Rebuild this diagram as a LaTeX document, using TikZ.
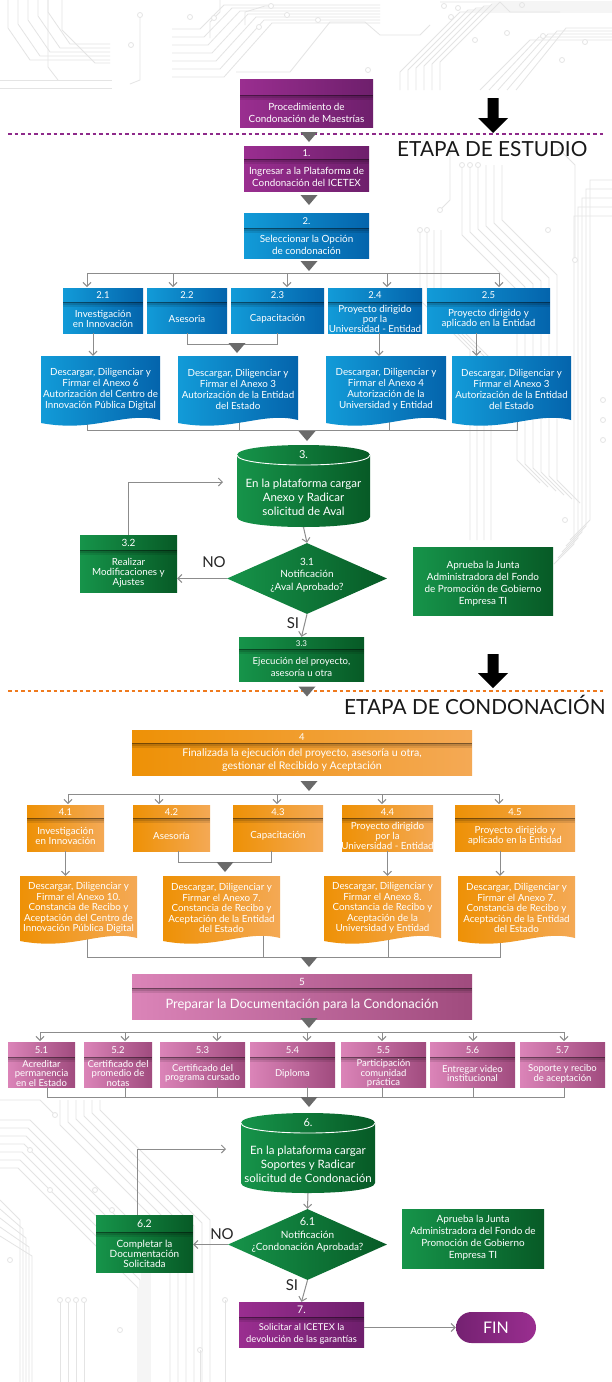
\documentclass[tikz,border=0pt]{standalone}
\usepackage{fontspec}
\setmainfont{Lato}
\usetikzlibrary{shapes.geometric,arrows.meta,calc}
\definecolor{purL}{HTML}{9A2E90}
\definecolor{purR}{HTML}{6E1F6C}
\definecolor{bluL}{HTML}{129BD8}
\definecolor{bluR}{HTML}{0464AC}
\definecolor{grnL}{HTML}{16944A}
\definecolor{grnR}{HTML}{075A26}
\definecolor{orgL}{HTML}{EE9106}
\definecolor{orgR}{HTML}{F4A955}
\definecolor{pnkL}{HTML}{DB84B8}
\definecolor{pnkR}{HTML}{A04B7E}
\definecolor{lineg}{HTML}{8C8C8C}
\definecolor{trig}{HTML}{6A6A6A}
\definecolor{dotpur}{HTML}{8E2A8A}
\definecolor{dotorg}{HTML}{EF7A1E}
\definecolor{circg}{HTML}{E4E4E4}
\pgfdeclarelayer{bg}
\pgfdeclarelayer{deco}
\pgfsetlayers{deco,bg,main}
\tikzset{
  base/.style={rectangle,inner sep=0pt,draw=none},
  pur/.style={left color=purL,right color=purR},
  blu/.style={left color=bluL,right color=bluR},
  grn/.style={left color=grnL,right color=grnR},
  org/.style={left color=orgL,right color=orgR},
  pnk/.style={left color=pnkL,right color=pnkR},
  numtxt/.style={text=white,font=\fontsize{9.5}{10}\selectfont,inner sep=0pt},
  boxtxt/.style={text=white,font=\fontsize{9.9}{12}\selectfont,align=center,inner sep=0pt},
  bt/.style={},
  nt/.style={},
  conn/.style={draw=lineg,line width=1pt},
  arr/.style={conn,-{Straight Barb[length=4pt,width=8pt]}},
  lbl/.style={font=\fontsize{15}{16}\selectfont,text=black!85,inner sep=0pt},
  etapa/.style={font=\fontsize{20.8}{22}\selectfont,text=black!90,inner sep=0pt,anchor=west},
  tri/.pic={\fill[trig] (-8.5,-5) -- (8.5,-5) -- (0,5) -- cycle;},
  circ/.style={draw=circg,line width=.8pt},
  pad/.style={draw=circg,line width=.8pt,fill=white},
}
\newcommand\pbox[9][14]{%
  \node[base,#7,minimum width={#5-#3},minimum height={#6-#4}] (#2) at ({(#3+#5)/2},{(#4+#6)/2}) {};
  \fill[black,opacity=.5] (#3,{#4+#1}) rectangle (#5,{#4+#1+1.3});
  \fill[black,opacity=.22] (#3,{#4+#1+1.3}) rectangle (#5,{#4+#1+3});
  \fill[black,opacity=.1] (#3,{#4+#1+3}) rectangle (#5,{#4+#1+5});
  \node[numtxt,nt] (#2-n) at ({(#3+#5)/2},{#4+#1/2+0.5}) {#8};
  \node[boxtxt,bt] (#2-t) at ({(#3+#5)/2},{(#4+#1+#6)/2+1.5}) {#9};
}
\newcommand\dbox[7]{%
  \shade[#6] (#2,#3) -- (#4,#3) -- (#4,{#5-5}) .. controls ({#4-0.3*(#4-#2)},{#5-14}) and ({#2+0.45*(#4-#2)},{#5+8}) .. (#2,{#5-2}) -- cycle;
  \node[base,minimum width={#4-#2},minimum height={#5-#3}] (#1) at ({(#2+#4)/2},{(#3+#5)/2}) {};
  \node[boxtxt,bt] (#1-t) at ({(#2+#4)/2},{(#3+#5)/2-1.5}) {#7};
}
\newcommand\cyl[7]{%
  \shade[grn] (#2,{#3+10}) .. controls (#2,{#3-3.33}) and (#4,{#3-3.33}) .. (#4,{#3+10}) -- (#4,{#5-10}) .. controls (#4,{#5+3.33}) and (#2,{#5+3.33}) .. (#2,{#5-10}) -- cycle;
  \draw[white,line width=.9pt] (#2,{#3+10}) .. controls (#2,{#3+23.33}) and (#4,{#3+23.33}) .. (#4,{#3+10});
  \node[base,minimum width={#4-#2},minimum height={#5-#3}] (#1) at ({(#2+#4)/2},{(#3+#5)/2}) {};
  \node[numtxt,font=\fontsize{11}{12}\selectfont] (#1-n) at ({(#2+#4)/2},{#3+10}) {#6};
  \node[boxtxt,font=\fontsize{11.5}{14}\selectfont] (#1-t) at ({(#2+#4)/2},{(#3+#5)/2+11}) {#7};
}
\newcommand\bigarrow[3]{%
  \fill[black] ({#1-5.5},#2) -- ({#1+5.5},#2) -- ({#1+5.5},{#3-15}) -- ({#1+15},{#3-15}) -- (#1,#3) -- ({#1-15},{#3-15}) -- ({#1-5.5},{#3-15}) -- cycle;
}
\begin{document}
\begin{tikzpicture}[x=1pt,y=-1pt]
\useasboundingbox (0,0) rectangle (612,1382);

% ===== faint circuit background =====
\begin{pgfonlayer}{deco}
\fill[white] (0,0) rectangle (612,1382);
% top left
\foreach \i in {0,...,4} \draw[circ] ({8+10*\i},0) -- ({8+10*\i},{28-4*\i}) -- ({30+10*\i},{60-4*\i}) -- (110,{60-4*\i});
\draw[circ] (0,80) -- (112,80);
\draw[circ] (0,88) -- (112,88);
\draw[circ] (48,0) -- (48,67) -- (58,80);
\draw[circ] (62,0) -- (62,30) -- (95,63) -- (110,63);
\draw[circ] (140,15) -- (140,80) -- (130,84);
\draw[pad] (140,15) circle (2.5);
\draw[pad] (131,45) circle (2.5);
% top centre bus
\foreach \i in {0,...,6} \draw[circ] (172,{29+8*\i}) -- ({200+4*\i},{29+8*\i}) -- ({224+8*\i},{5+3*\i}) -- (380,{5+3*\i});
\draw[circ] (236,72) -- (290,72) -- (330,22) -- (365,22) -- (380,35) -- (420,35) -- (430,25);
\draw[circ] (210,38) -- (210,22) -- (220,12) -- (220,0);
\draw[circ] (245,25) -- (245,12) -- (265,6) -- (270,6);
\foreach \p in {(190,17),(214,18),(271,6),(259,27),(287,15),(318,20),(368,70),(458,8),(451,17),(522,5)} \draw[pad] \p circle (2.5);
% top right bus
\foreach \i in {0,...,5} \draw[circ] ({400+8*\i},90) -- ({400+8*\i},{72-2*\i}) -- ({460+8*\i},{12-2*\i}) -- (612,{12-2*\i});
\foreach \i in {0,...,4} \draw[circ] ({480+9*\i},90) -- ({530+9*\i},{40-\i*3}) -- (612,{40-\i*3});
\draw[circ] (440,2) -- (500,2) -- (510,12) -- (560,12);
\foreach \p in {(444,6),(475,40),(585,42),(543,36),(562,60),(507,33)} \draw[pad] \p circle (2.5);
% right side
\foreach \i in {0,...,5} \draw[circ] ({462+8*\i},165) -- ({462+8*\i},{235-3*\i}) -- ({517+8*\i},{290-3*\i}) -- ({517+8*\i},{460+4*\i}) -- ({540+8*\i},{483+4*\i});
\foreach \i in {0,...,4} \draw[circ] (612,{180+9*\i}) -- ({590-4*\i},{180+9*\i}) -- ({590-4*\i},{520+6*\i}) -- ({570-4*\i},{540+6*\i});
\foreach \i in {0,...,3} \draw[circ] ({420+7*\i},230) -- ({420+7*\i},{300+3*\i}) -- ({470+7*\i},{350+3*\i}) -- ({470+7*\i},{540});
\draw[circ] (450,150) -- (450,200) -- (440,210);
\draw[circ] (560,150) -- (575,165) -- (575,260);
\foreach \p in {(462,165),(470,165),(478,165),(450,150),(440,210),(560,150),(575,260),(548,230),(540,300),(420,230),(427,230),(560,380),(603,400),(603,420),(603,440),(565,520)} \draw[pad] \p circle (2.5);
% bottom left
\foreach \i in {0,...,6} \draw[circ] (0,{1120+8*\i}) -- ({30-2*\i},{1120+8*\i}) -- ({150-2*\i},{1240+8*\i}) -- ({150-2*\i},1382);
\foreach \i in {0,...,5} \draw[circ] ({60+8*\i},1100) -- ({60+8*\i},{1125-3*\i}) -- ({170+8*\i},{1235-3*\i}) -- ({170+8*\i},1382);
\foreach \i in {0,...,4} \draw[circ] (0,{1200+9*\i}) -- ({20+3*\i},{1220+9*\i}) -- ({20+3*\i},1382);
\foreach \i in {0,...,3} \draw[circ] ({60+8*\i},1300) -- ({60+8*\i},1382);
\draw[circ] (0,1100) -- (40,1100) -- (55,1115);
\foreach \p in {(55,1115),(30,1150),(50,1190),(95,1190),(112,1210),(60,1300),(68,1300),(76,1300),(84,1300),(10,1260),(120,1330),(225,1300),(200,1350)} \draw[pad] \p circle (2.5);
\draw[circ] (225,1300) -- (225,1382);
\draw[circ] (200,1350) -- (200,1382);
\end{pgfonlayer}

% ===== ETAPA DE ESTUDIO =====
\draw[dotpur,line width=1.6pt,dash pattern=on 3.5pt off 3pt] (8,134) -- (605,134);
\bigarrow{493}{98}{133}
\node[etapa] (etapa1) at (397,149) {ETAPA DE ESTUDIO};

\pbox[16]{p0}{240}{79}{373}{127}{pur}{}{Procedimiento de\\Condonación de Maestrías}
\pic at (309,137) {tri};
\pbox[13]{b1}{244}{146}{369}{191}{pur}{1.}{Ingresar a la Plataforma de\\Condonación del ICETEX}
\pic at (309,200) {tri};
\pbox[15]{b2}{244}{213}{369}{258}{blu}{2.}{Seleccionar la Opción\\de condonación}
\pic at (309,266) {tri};

\begin{scope}[bt/.style={font=\fontsize{9.8}{10}\selectfont}]
\pbox{b21}{63}{288}{143}{333}{blu}{2.1}{Investigación\\en Innovación}
\pbox{b22}{147}{288}{227}{333}{blu}{2.2}{Asesoria}
\pbox{b23}{231}{288}{324}{333}{blu}{2.3}{Capacitación}
\pbox{b24}{328}{288}{422}{333}{blu}{2.4}{Proyecto dirigido\\por la\\Universidad - Entidad}
\pbox{b25}{427}{288}{550}{333}{blu}{2.5}{Proyecto dirigido y\\aplicado en la Entidad}
\end{scope}

\begin{scope}[bt/.style={font=\fontsize{9.8}{11}\selectfont}]
\dbox{d1}{41}{356}{160}{425}{blu}{Descargar, Diligenciar y\\Firmar el Anexo 6\\Autorización del Centro de\\Innovación Pública Digital}
\dbox{d2}{178}{356}{298}{425}{blu}{Descargar, Diligenciar y\\Firmar el Anexo 3\\Autorización de la Entidad\\del Estado}
\dbox{d3}{326}{356}{446}{425}{blu}{Descargar, Diligenciar y\\Firmar el Anexo 4\\Autorización de la\\Universidad y Entidad}
\dbox{d4}{452}{356}{571}{425}{blu}{Descargar, Diligenciar y\\Firmar el Anexo 3\\Autorización de la Entidad\\del Estado}
\end{scope}

\draw[conn] (87,273) -- (499,273);
\foreach \x/\n in {87/b21,173/b22,287/b23,387/b24,499/b25}
  \draw[arr] (\x,273) -- (\x,287);
\draw[arr] ([xshift=-10pt]b21.south) -- ([xshift=-10pt]b21.south |- d1.north);
\draw[conn] (b22.south) -- ++(0,11) -| (b23.south);
\pic at (237,348) {tri};
\draw[arr] ([xshift=4pt]b24.south) -- ([xshift=4pt]b24.south |- d3.north);
\draw[arr] ([xshift=-12pt]b25.south) -- ([xshift=-12pt]b25.south |- d4.north);
\begin{pgfonlayer}{bg}
\draw[conn] (87,410) -- (87,430) -- (517,430) -- (517,410);
\draw[conn] (239,410) -- (239,430);
\draw[conn] (389,410) -- (389,430);
\end{pgfonlayer}

% ===== step 3 =====
\pic at (307,436) {tri};
\cyl{c3}{237}{445}{370}{527}{3.}{En la plataforma cargar\\Anexo y Radicar\\solicitud de Aval}
\node[base,diamond,grn,minimum width=160,minimum height=71] (q3) at (307,578.5) {};
\node[boxtxt,font=\fontsize{10}{12.5}\selectfont] (q3-t) at (307,575) {3.1\\Notificación\\¿Aval Aprobado?};
\begin{scope}[bt/.style={font=\fontsize{9.8}{9.8}\selectfont},nt/.style={font=\fontsize{10}{10}\selectfont}]
\pbox[15]{b32}{80}{535}{177}{592}{grn}{3.2}{Realizar\\Modificaciones y\\Ajustes}
\end{scope}
\begin{scope}[nt/.style={font=\fontsize{8}{8}\selectfont},bt/.style={font=\fontsize{9.6}{12}\selectfont}]
\pbox[12]{b33}{239}{637}{364}{681}{grn}{3.3}{Ejecución del proyecto,\\asesoría u otra}
\end{scope}
\node[base,grn,minimum width=140,minimum height=68] (a1) at (483,581) {};
\node[boxtxt,font=\fontsize{9.9}{12}\selectfont] (a1-t) at (483,584) {Aprueba la Junta\\Administradora del Fondo\\de Promoción de Gobierno\\Empresa TI};

\draw[arr] (c3.south) -- (q3.north);
\draw[arr] (q3.west) -- (q3.west -| b32.east);
\node[lbl] (no1) at (214,562) {NO};
\coordinate (l3) at (223,482);
\draw[arr] (b32.north) |- (l3);
\draw[arr] (q3.south) -- (b33.north);
\node[lbl] (si1) at (293,623) {SI};

% ===== ETAPA DE CONDONACION =====
\bigarrow{493}{654}{688}
\draw[dotorg,line width=1.6pt,dash pattern=on 3.5pt off 3pt] (8,691) -- (605,691);
\pic at (307,691.5) {tri};
\node[etapa] (etapa2) at (344,705) {ETAPA DE CONDONACIÓN};

\begin{scope}[bt/.style={font=\fontsize{10.6}{13}\selectfont}]
\pbox[13]{b4}{132}{730}{472}{775}{org}{4}{Finalizada la ejecución del proyecto, asesoría u otra,\\gestionar el Recibido y Aceptación}
\end{scope}
\pic at (309,786) {tri};
\begin{scope}[bt/.style={font=\fontsize{9.8}{10}\selectfont}]
\pbox[13]{b41}{27}{805}{104}{851}{org}{4.1}{Investigación\\en Innovación}
\pbox[13]{b42}{133}{805}{210}{851}{org}{4.2}{Asesoría}
\pbox[13]{b43}{233}{805}{323}{851}{org}{4.3}{Capacitación}
\pbox[13]{b44}{342}{805}{433}{851}{org}{4.4}{Proyecto dirigido\\por la\\Universidad - Entidad}
\pbox[13]{b45}{455}{805}{575}{851}{org}{4.5}{Proyecto dirigido y\\aplicado en la Entidad}
\end{scope}
\begin{scope}[bt/.style={font=\fontsize{9.8}{10.5}\selectfont}]
\dbox{e1}{20}{876}{137}{943}{org}{Descargar, Diligenciar y\\Firmar el Anexo 10.\\Constancia de Recibo y\\Aceptación del Centro de\\Innovación Pública Digital}
\dbox{e2}{163}{876}{280}{943}{org}{Descargar, Diligenciar y\\Firmar el Anexo 7.\\Constancia de Recibo y\\Aceptación de la Entidad\\del Estado}
\dbox{e3}{324}{876}{441}{943}{org}{Descargar, Diligenciar y\\Firmar el Anexo 8.\\Constancia de Recibo y\\Aceptación de la\\Universidad y Entidad}
\dbox{e4}{458}{876}{575}{943}{org}{Descargar, Diligenciar y\\Firmar el Anexo 7.\\Constancia de Recibo y\\Aceptación de la Entidad\\del Estado}
\end{scope}
\draw[conn] (68,794) -- (500,794);
\foreach \x in {68,159,277,382,499}
  \draw[arr] (\x,794) -- (\x,804);
\draw[arr] (b41.south) -- (b41.south |- e1.north);
\draw[conn] ([xshift=6.5pt]b42.south) -- ++(0,11) -| ([xshift=-7pt]b43.south);
\pic at (225,867) {tri};
\draw[arr] (b44.south) -- (b44.south |- e3.north);
\draw[arr] ([xshift=-15pt]b45.south) -- ([xshift=-15pt]b45.south |- e4.north);
\begin{pgfonlayer}{bg}
\draw[conn] (87,930) -- (87,957) -- (500,957) -- (500,930);
\draw[conn] (263,930) -- (263,957);
\draw[conn] (388,930) -- (388,957);
\end{pgfonlayer}

% ===== step 5 =====
\pic at (309,962) {tri};
\begin{scope}[bt/.style={font=\fontsize{12.9}{14}\selectfont},nt/.style={font=\fontsize{10}{10}\selectfont}]
\pbox[14]{b5}{132}{974}{472}{1019}{pnk}{5}{Preparar la Documentación para la Condonación}
\end{scope}
\pic at (309,1023) {tri};
\begin{scope}[bt/.style={font=\fontsize{9.5}{9.7}\selectfont}]
\pbox[15]{b51}{8}{1042}{75}{1087}{pnk}{5.1}{Acreditar\\permanencia\\en el Estado}
\pbox[15]{b52}{84}{1042}{152}{1087}{pnk}{5.2}{Certificado del\\promedio de\\notas}
\pbox[15]{b53}{160}{1042}{245}{1087}{pnk}{5.3}{Certificado del\\programa cursado}
\pbox[15]{b54}{250}{1042}{335}{1087}{pnk}{5.4}{Diploma}
\pbox[15]{b55}{341}{1042}{426}{1087}{pnk}{5.5}{Participación\\comunidad\\práctica}
\pbox[15]{b56}{430}{1042}{515}{1087}{pnk}{5.6}{Entregar video\\institucional}
\pbox[15]{b57}{520}{1042}{605}{1087}{pnk}{5.7}{Soporte y recibo\\de aceptación}
\end{scope}
\draw[conn] (40,1032) -- (564,1032);
\foreach \x in {40,125,217,307,382,473,564}
  \draw[arr] (\x,1032) -- (\x,1041);
\draw[conn] (47,1087) -- (47,1097) -- (564,1097) -- (564,1087);
\foreach \x in {125,217,307,382,473}
  \draw[conn] (\x,1087) -- (\x,1097);
\pic at (309,1102) {tri};

% ===== step 6 =====
\cyl{c6}{241}{1113}{375}{1193}{6.}{En la plataforma cargar\\Soportes y Radicar\\solicitud de Condonación}
\node[base,diamond,grn,minimum width=159,minimum height=71] (q6) at (307.5,1244.5) {};
\node[boxtxt,font=\fontsize{10}{12.5}\selectfont] (q6-t) at (307.5,1235) {{\fontsize{11}{12}\selectfont 6.1}\\Notificación\\¿Condonación Aprobada?};
\begin{scope}[bt/.style={font=\fontsize{10}{10}\selectfont},nt/.style={font=\fontsize{10.5}{11}\selectfont}]
\pbox[17]{b62}{96}{1215}{193}{1272}{grn}{6.2}{Completar la\\Documentación\\Solicitada}
\end{scope}
\node[base,grn,minimum width=142,minimum height=59] (a2) at (473,1238.5) {};
\node[boxtxt,font=\fontsize{9.9}{12}\selectfont] (a2-t) at (473,1238) {Aprueba la Junta\\Administradora del Fondo de\\Promoción de Gobierno\\Empresa TI};
\draw[arr] (c6.south) -- (q6.north);
\draw[arr] (q6.west) -- (q6.west -| b62.east);
\node[lbl] (no2) at (222,1234) {NO};
\coordinate (l6) at (226,1149);
\draw[arr] ([xshift=-7pt]b62.north) |- (l6);
\node[lbl] (si2) at (292,1285) {SI};

\begin{scope}[bt/.style={font=\fontsize{9.4}{12}\selectfont},nt/.style={font=\fontsize{10.5}{11}\selectfont}]
\pbox[15]{b7}{239}{1302}{364}{1347}{pur}{7.}{Solicitar al ICETEX la\\devolución de las garantías}
\end{scope}
\draw[arr] (q6.south) -- (b7.north);
\node[base,left color=purR!85!purL,right color=purL,rounded corners=15.5pt,minimum width=80,minimum height=31,text=white,font=\fontsize{16}{17}\selectfont] (fin) at (496,1327.5) {FIN};
\draw[arr] (b7.east |- fin.west) -- (fin.west);
\end{tikzpicture}
\end{document}
